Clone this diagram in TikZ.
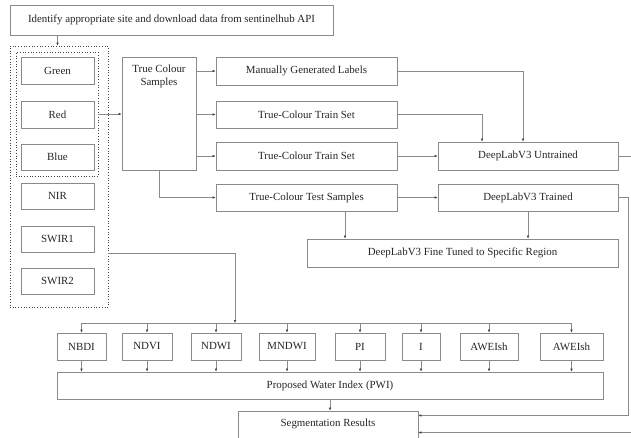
\documentclass[tikz,border=0pt]{standalone}
\usepackage{fontspec}
\setmainfont{Liberation Serif}
\usetikzlibrary{arrows.meta}
\definecolor{lncol}{HTML}{8A8A8A}
\definecolor{txtcol}{HTML}{262626}
\newcommand{\dgfont}{\fontsize{10.9}{12.5}\selectfont}
\begin{document}
\begin{tikzpicture}[x=1pt,y=-1pt,
  box/.style={draw=lncol,line width=0.7pt,fill=white,inner sep=0pt,text=txtcol,
    font=\dgfont},
  dotbox/.style={draw=black!75,dotted,line width=0.7pt,inner sep=0pt},
  line/.style={draw=lncol,line width=0.6pt},
  arr/.style={line,-{Latex[length=3pt,width=2.6pt,color=black!75]}}]
\useasboundingbox[fill=white] (0,0) rectangle (631,437);
% top
\node[box,minimum width=323pt,minimum height=30pt] (top) at (171.5,20) {Identify appropriate site and download data from sentinelhub API};
% dotted groups
\node[dotbox,minimum width=98pt,minimum height=261pt] (outer) at (59,176.5) {};
\node[dotbox,minimum width=82pt,minimum height=124pt] (inner) at (57,114) {};
% bands
\tikzset{band/.style={box,minimum width=73pt,minimum height=27pt}}
\node[band] (green) at (57.5,71) {Green};
\node[band] (red) at (57.5,114.5) {Red};
\node[band,minimum height=26pt] (blue) at (57.5,157) {Blue};
\node[band,minimum height=26pt] (nir) at (57.5,196) {NIR};
\node[band,minimum height=26pt] (swira) at (57.5,239) {SWIR1};
\node[band,minimum height=26pt] (swirb) at (57.5,281) {SWIR2};
% true colour samples
\node[box,minimum width=74pt,minimum height=113pt,
  label={[anchor=north,align=center,yshift=-5pt,text=txtcol,font=\dgfont]north:True Colour\\Samples}] (tcs) at (159,113.5) {};
% middle column
\tikzset{mid/.style={box,minimum width=181pt,minimum height=28pt}}
\node[mid] (manual) at (306.5,71) {Manually Generated Labels};
\node[mid,minimum height=27pt] (traina) at (306.5,114.5) {True-Colour Train Set};
\node[mid] (trainb) at (306.5,156) {True-Colour Train Set};
\node[mid,minimum height=27pt] (test) at (306.5,197.5) {True-Colour Test Samples};
% deeplab
\node[box,minimum width=180pt,minimum height=28pt] (untr) at (528,156) {DeepLabV3 Untrained};
\node[box,minimum width=180pt,minimum height=27pt] (trained) at (528,197.5) {DeepLabV3 Trained};
\node[box,minimum width=311pt,minimum height=28pt] (fine) at (462.5,253) {DeepLabV3 Fine Tuned to Specific Region};
% indices
\tikzset{idx/.style={box,minimum height=27pt}}
\node[idx,minimum width=49pt] (nbdi) at (81.5,346.5) {NBDI};
\node[idx,minimum width=50pt] (ndvi) at (147,346.5) {NDVI};
\node[idx,minimum width=50pt] (ndwi) at (216,346.5) {NDWI};
\node[idx,minimum width=56pt] (mndwi) at (287,346.5) {MNDWI};
\node[idx,minimum width=50pt] (pi) at (360,346.5) {PI};
\node[idx,minimum width=38pt] (ii) at (421,346.5) {I};
\node[idx,minimum width=58pt] (aweia) at (489,346.5) {AWEIsh};
\node[idx,minimum width=63pt] (aweib) at (571.5,346.5) {AWEIsh};
\node[box,minimum width=546pt,minimum height=27pt] (pwi) at (330,385.5) {Proposed Water Index (PWI)};
\node[box,minimum width=180pt,minimum height=39pt,
  label={[anchor=north,yshift=-5pt,text=txtcol,font=\dgfont]north:Segmentation Results}] (seg) at (328,430.5) {};
% helper coordinates
\coordinate (busL) at (81.5,323);
\coordinate (busR) at (571.5,323);
\coordinate (busIn) at (235,323);
\coordinate (wrapA) at (628,0);
\coordinate (wrapB) at (645,0);
% connectors
\draw[arr] (green |- top.south) -- (green |- outer.north);
\draw[arr] (inner.east) -- (inner.east -| tcs.west);
\draw[arr] (tcs.east |- manual) -- (manual.west);
\draw[arr] (tcs.east |- traina) -- (traina.west);
\draw[arr] (tcs.east |- trainb) -- (trainb.west);
\draw[arr] (tcs.south) |- (test.west);
\draw[arr] (manual.east) -| ([xshift=-5pt]untr.north);
\draw[arr] (traina.east) -| ([xshift=-46pt]untr.north);
\draw[arr] (trainb.east) -- (untr.west);
\draw[arr] (test.east) -- (trained.west);
\draw[arr] ([xshift=38.5pt]test.south) -- ([xshift=38.5pt]test.south |- fine.north);
\draw[arr] (trained.south) -- (trained.south |- fine.north);
\draw[arr] (untr.east) -- (untr.east -| wrapB) |- ([yshift=-2pt]seg.east);
\draw[arr] (trained.east) -- (trained.east -| wrapA) |- ([yshift=15pt]seg.east);
% bus
\draw[line] (busL) -- (busR);
\draw[arr] ([yshift=-76.5pt]outer.east) -| (busIn);
\foreach \n in {nbdi,ndvi,ndwi,mndwi,pi,ii,aweia,aweib}{
  \draw[arr] (\n |- busL) -- (\n.north);
  \draw[arr] (\n.south) -- (\n.south |- pwi.north);
}
\draw[arr] (pwi.south) -- (pwi.south |- seg.north);
\end{tikzpicture}
\end{document}
